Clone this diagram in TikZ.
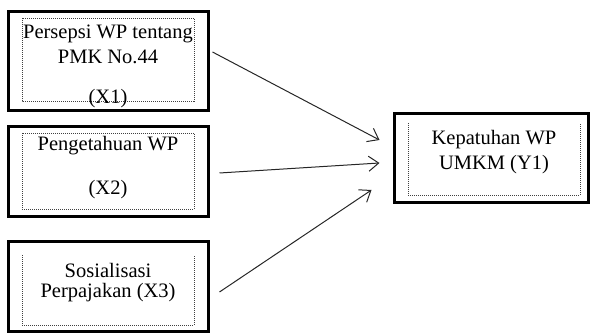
\documentclass[tikz,border=0pt]{standalone}
\usepackage{fontspec}
\setmainfont{Liberation Serif}
\usetikzlibrary{arrows.meta}
\tikzset{
  varbox/.style={draw,line width=3pt,minimum width=200pt,minimum height=90pt,inner sep=0pt},
  inbox/.style={draw=black!75,line width=0.8pt,dash pattern=on 1pt off 1pt},
  vartext/.style={align=center,inner sep=0pt,font=\fontsize{20.5}{25}\selectfont},
  arr/.style={-{Straight Barb[length=10pt,width=15pt]},line width=1pt,draw=black!85}
}

\begin{document}
\begin{tikzpicture}[x=1pt,y=-1pt]
    \useasboundingbox (0,0) rectangle (592,336);
    % variables
    \node[varbox,minimum height=99pt] (X1) at (108.5,61) {};
    \node[varbox] (X2) at (108.5,171.5) {};
    \node[varbox] (X3) at (108.5,286.5) {};
    \node[varbox,minimum width=194pt,minimum height=89pt] (Y1) at (491.5,158) {};
    % dotted frames
    \draw[inbox] (22,18) rectangle (194,101);
    \draw[inbox] (22,133) rectangle (194,209);
    \draw[inbox] (22,255) |- (194,325) -- (194,255);
    \draw[inbox] (408,123) |- (580,195) -- (580,123);
    % texts
    \node[vartext] (X1txt) at (108,66) {Persepsi WP tentang\\PMK No.44\\[15pt](X1)};
    \node[vartext] (X2txt) at (108,167.5) {Pengetahuan WP\\[19pt](X2)};
    \node[vartext] (X3txt) at (108,282.5) {Sosialisasi\\[-5pt]Perpajakan (X3)};
    \node[vartext] (Y1txt) at (494,152.5) {Kepatuhan WP\\UMKM (Y1)};
    % arrows
    \draw[arr] ([xshift=2.5pt,yshift=9pt]X1.east) -- ([xshift=-13.5pt,yshift=18pt]Y1.west);
    \draw[arr] ([xshift=9.5pt,yshift=-1.5pt]X2.east) -- ([xshift=-13.5pt,yshift=-5pt]Y1.west);
    \draw[arr] ([xshift=9.5pt,yshift=-5.5pt]X3.east) -- ([xshift=-21.5pt,yshift=-32pt]Y1.west);
\end{tikzpicture}
\end{document}
